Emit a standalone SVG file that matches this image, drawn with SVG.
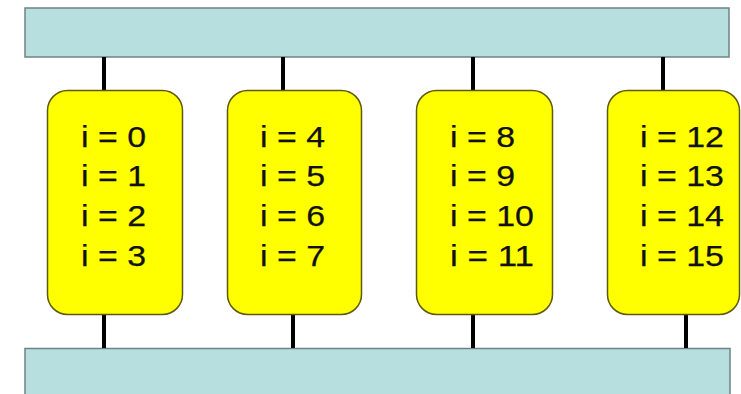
<svg xmlns="http://www.w3.org/2000/svg" width="741" height="394" viewBox="0 0 741 394">
<style>
.bar{fill:#B8DFE0;stroke:#6F8283;stroke-width:1.5}
.node{fill:#FFFF00;stroke:#5E5A10;stroke-width:1.5}
.conn{stroke:#000;stroke-width:4;fill:none}
text{font-family:"Liberation Sans",Arial,sans-serif;font-size:29.5px;fill:#111;stroke:#111;stroke-width:0.25}
</style>
<rect width="741" height="394" fill="#fff"/>
<g id="top-bar"><rect class="bar" x="25" y="8" width="704" height="49"/></g>
<g id="bottom-bar"><rect class="bar" x="25" y="348.5" width="705" height="50"/></g>
<g id="connectors">
<line class="conn" x1="104" y1="57" x2="104" y2="91"/>
<line class="conn" x1="283" y1="57" x2="283" y2="91"/>
<line class="conn" x1="473" y1="57" x2="473" y2="91"/>
<line class="conn" x1="663" y1="57" x2="663" y2="91"/>
<line class="conn" x1="104" y1="315" x2="104" y2="348"/>
<line class="conn" x1="293" y1="315" x2="293" y2="348"/>
<line class="conn" x1="473" y1="315" x2="473" y2="348"/>
<line class="conn" x1="686" y1="315" x2="686" y2="348"/>
</g>
<g id="node1">
<rect class="node" x="47.5" y="90.5" width="135" height="224" rx="20"/>
<text x="81" y="147" textLength="65" lengthAdjust="spacingAndGlyphs">i = 0</text>
<text x="81" y="186" textLength="65" lengthAdjust="spacingAndGlyphs">i = 1</text>
<text x="81" y="226" textLength="65" lengthAdjust="spacingAndGlyphs">i = 2</text>
<text x="81" y="266" textLength="65" lengthAdjust="spacingAndGlyphs">i = 3</text>
</g>
<g id="node2">
<rect class="node" x="227.5" y="90.5" width="134" height="224" rx="20"/>
<text x="260" y="147" textLength="65" lengthAdjust="spacingAndGlyphs">i = 4</text>
<text x="260" y="186" textLength="65" lengthAdjust="spacingAndGlyphs">i = 5</text>
<text x="260" y="226" textLength="65" lengthAdjust="spacingAndGlyphs">i = 6</text>
<text x="260" y="266" textLength="65" lengthAdjust="spacingAndGlyphs">i = 7</text>
</g>
<g id="node3">
<rect class="node" x="416.5" y="90.5" width="136" height="224" rx="20"/>
<text x="450" y="147" textLength="65" lengthAdjust="spacingAndGlyphs">i = 8</text>
<text x="450" y="186" textLength="65" lengthAdjust="spacingAndGlyphs">i = 9</text>
<text x="450" y="226" textLength="84" lengthAdjust="spacingAndGlyphs">i = 10</text>
<text x="450" y="266" textLength="84" lengthAdjust="spacingAndGlyphs">i = 11</text>
</g>
<g id="node4">
<rect class="node" x="607.5" y="90.5" width="132" height="224" rx="20"/>
<text x="640" y="147" textLength="84" lengthAdjust="spacingAndGlyphs">i = 12</text>
<text x="640" y="186" textLength="84" lengthAdjust="spacingAndGlyphs">i = 13</text>
<text x="640" y="226" textLength="84" lengthAdjust="spacingAndGlyphs">i = 14</text>
<text x="640" y="266" textLength="84" lengthAdjust="spacingAndGlyphs">i = 15</text>
</g>
</svg>
